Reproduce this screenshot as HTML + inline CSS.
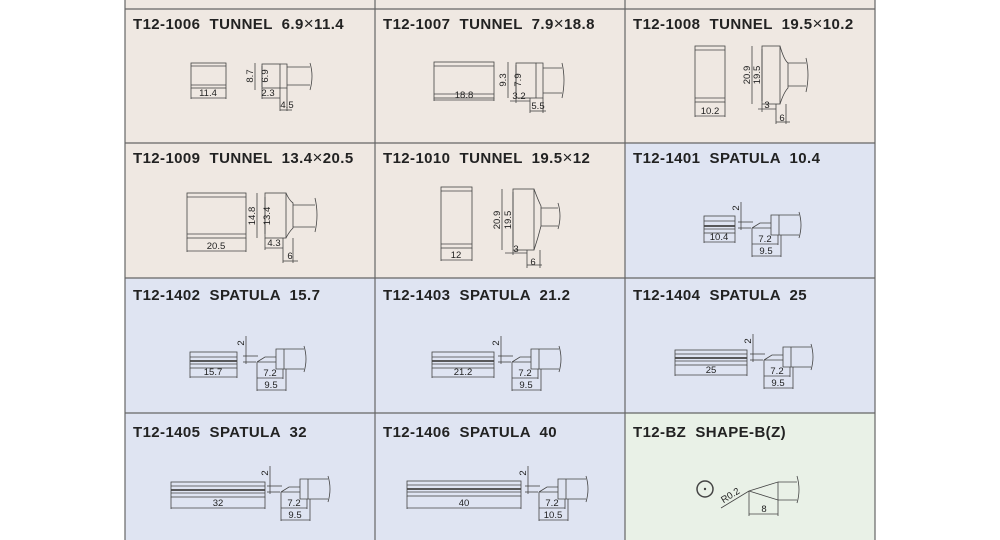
<!DOCTYPE html>
<html><head><meta charset="utf-8"><style>
html,body{margin:0;padding:0;background:#fff;}
svg{display:block;}
.t{font-family:"Liberation Sans",sans-serif;font-weight:bold;font-size:15px;letter-spacing:0.4px;fill:#222;white-space:pre;}
.x{font-weight:normal;font-size:17px;}
.d{font-family:"Liberation Sans",sans-serif;font-size:9.5px;fill:#222;}
.s{fill:none;stroke:#444;stroke-width:0.8;}
.g{stroke:#666;stroke-width:1.2;}
</style></head><body>
<svg width="1000" height="540" viewBox="0 0 1000 540" xmlns="http://www.w3.org/2000/svg" xml:space="preserve">
<rect x="0" y="0" width="1000" height="540" fill="#fff"/>
<rect x="125" y="0" width="750" height="143" fill="#efe8e2"/>
<rect x="125" y="143" width="500" height="135" fill="#efe8e2"/>
<rect x="625" y="143" width="250" height="135" fill="#dfe4f2"/>
<rect x="125" y="278" width="750" height="135" fill="#dfe4f2"/>
<rect x="125" y="413" width="500" height="127" fill="#dfe4f2"/>
<rect x="625" y="413" width="250" height="127" fill="#e9f1e7"/>
<g class="g">
<line x1="125" y1="0" x2="125" y2="540"/><line x1="375" y1="0" x2="375" y2="540"/>
<line x1="625" y1="0" x2="625" y2="540"/><line x1="875" y1="0" x2="875" y2="540"/>
<line x1="125" y1="9" x2="875" y2="9"/><line x1="125" y1="143" x2="875" y2="143"/>
<line x1="125" y1="278" x2="875" y2="278"/><line x1="125" y1="413" x2="875" y2="413"/>
</g>
<text class="t" x="133" y="29">T12-1006  TUNNEL  6.9<tspan class="x">×</tspan>11.4</text>
<text class="t" x="383" y="29">T12-1007  TUNNEL  7.9<tspan class="x">×</tspan>18.8</text>
<text class="t" x="633" y="29">T12-1008  TUNNEL  19.5<tspan class="x">×</tspan>10.2</text>
<text class="t" x="133" y="163">T12-1009  TUNNEL  13.4<tspan class="x">×</tspan>20.5</text>
<text class="t" x="383" y="163">T12-1010  TUNNEL  19.5<tspan class="x">×</tspan>12</text>
<text class="t" x="633" y="163">T12-1401  SPATULA  10.4</text>
<text class="t" x="133" y="300">T12-1402  SPATULA  15.7</text>
<text class="t" x="383" y="300">T12-1403  SPATULA  21.2</text>
<text class="t" x="633" y="300">T12-1404  SPATULA  25</text>
<text class="t" x="133" y="437">T12-1405  SPATULA  32</text>
<text class="t" x="383" y="437">T12-1406  SPATULA  40</text>
<text class="t" x="633" y="437">T12-BZ  SHAPE-B(Z)</text>

<g class="s">
<rect x="191" y="63" width="35" height="25"/><line x1="191" y1="66" x2="226" y2="66"/><line x1="191" y1="85" x2="226" y2="85"/>
<line x1="191" y1="88" x2="191" y2="99"/><line x1="226" y1="88" x2="226" y2="99"/><line x1="191" y1="98" x2="226" y2="98"/>
<line x1="255" y1="63" x2="255" y2="90"/><line x1="262" y1="66" x2="262" y2="87"/>
<rect x="262" y="64" width="18" height="24"/><path d="M280 64 H287 V88 H280 M287 67 H310 M287 85 H310 M310 63 Q314 76 310 90"/>
<line x1="262" y1="88" x2="262" y2="99"/><line x1="280" y1="88" x2="280" y2="111"/><line x1="287" y1="88" x2="287" y2="111"/>
<line x1="262" y1="98" x2="280" y2="98"/><line x1="280" y1="110" x2="292" y2="110"/>
<rect x="434" y="62" width="60" height="36"/><line x1="434" y1="66" x2="494" y2="66"/><line x1="434" y1="94" x2="494" y2="94"/>
<line x1="434" y1="98" x2="434" y2="101"/><line x1="494" y1="98" x2="494" y2="101"/><line x1="434" y1="100" x2="494" y2="100"/>
<line x1="508" y1="62" x2="508" y2="98"/><line x1="516" y1="65" x2="516" y2="95"/>
<rect x="516" y="63" width="20" height="35"/><path d="M536 63 H543 V98 H536 M543 68 H562 M543 93 H562 M562 63 Q566 80 562 98"/>
<line x1="516" y1="98" x2="516" y2="103"/><line x1="530" y1="98" x2="530" y2="113"/><line x1="543" y1="98" x2="543" y2="113"/>
<line x1="510" y1="101" x2="530" y2="101"/><line x1="530" y1="111" x2="546" y2="111"/>
<rect x="695" y="46" width="30" height="56"/><line x1="695" y1="50" x2="725" y2="50"/><line x1="695" y1="98" x2="725" y2="98"/>
<line x1="695" y1="102" x2="695" y2="117"/><line x1="725" y1="102" x2="725" y2="117"/><line x1="695" y1="116" x2="725" y2="116"/>
<line x1="752" y1="46" x2="752" y2="104"/><line x1="762" y1="49" x2="762" y2="101"/>
<rect x="762" y="46" width="18" height="58"/><path d="M780 46 Q784 60 788 63 V88 Q784 92 780 104 M788 63 H806 M788 86 H806 M806 58 Q810 75 806 92"/>
<line x1="762" y1="104" x2="762" y2="112"/><line x1="776" y1="104" x2="776" y2="124"/><line x1="786" y1="104" x2="786" y2="124"/>
<line x1="758" y1="109" x2="776" y2="109"/><line x1="776" y1="122" x2="790" y2="122"/>
<rect x="187" y="193" width="59" height="45"/><line x1="187" y1="197" x2="246" y2="197"/><line x1="187" y1="234" x2="246" y2="234"/>
<line x1="187" y1="238" x2="187" y2="252"/><line x1="246" y1="238" x2="246" y2="252"/><line x1="187" y1="251" x2="246" y2="251"/>
<line x1="257" y1="193" x2="257" y2="238"/><line x1="265" y1="197" x2="265" y2="234"/>
<rect x="265" y="193" width="21" height="45"/><path d="M286 193 Q289 200 293 203 V228 Q289 232 286 238 M293 205 H315 M293 227 H315 M315 198 Q319 215 315 232"/>
<line x1="265" y1="238" x2="265" y2="250"/><line x1="283" y1="238" x2="283" y2="263"/><line x1="293" y1="238" x2="293" y2="263"/>
<line x1="265" y1="248" x2="283" y2="248"/><line x1="283" y1="261" x2="298" y2="261"/>
<rect x="441" y="187" width="31" height="61"/><line x1="441" y1="191" x2="472" y2="191"/><line x1="441" y1="244" x2="472" y2="244"/>
<line x1="441" y1="248" x2="441" y2="261"/><line x1="472" y1="248" x2="472" y2="261"/><line x1="441" y1="260" x2="472" y2="260"/>
<line x1="502" y1="189" x2="502" y2="250"/><line x1="513" y1="192" x2="513" y2="247"/>
<rect x="513" y="189" width="21" height="61"/><path d="M534 189 Q538 200 541 206 V226 Q538 238 534 250 M541 208 H558 M541 226 H558 M558 203 Q562 216 558 229"/>
<line x1="513" y1="250" x2="513" y2="255"/><line x1="527" y1="250" x2="527" y2="268"/><line x1="540" y1="250" x2="540" y2="268"/>
<line x1="505" y1="253" x2="527" y2="253"/><line x1="527" y1="265" x2="542" y2="265"/>
</g>

<g class="d" text-anchor="middle">
<text x="208" y="96">11.4</text>
<text transform="translate(253,76) rotate(-90)">8.7</text><text transform="translate(268,76) rotate(-90)">6.9</text>
<text x="268" y="96">2.3</text><text x="287" y="108">4.5</text>
<text x="464" y="98">18.8</text>
<text transform="translate(506,80) rotate(-90)">9.3</text><text transform="translate(521,80) rotate(-90)">7.9</text>
<text x="519" y="99">3.2</text><text x="538" y="109">5.5</text>
<text x="710" y="114">10.2</text>
<text transform="translate(750,75) rotate(-90)">20.9</text><text transform="translate(760,75) rotate(-90)">19.5</text>
<text x="767" y="108">3</text><text x="782" y="121">6</text>
<text x="216" y="249">20.5</text>
<text transform="translate(255,216) rotate(-90)">14.8</text><text transform="translate(270,216) rotate(-90)">13.4</text>
<text x="274" y="246">4.3</text><text x="290" y="259">6</text>
<text x="456" y="258">12</text>
<text transform="translate(500,220) rotate(-90)">20.9</text><text transform="translate(511,220) rotate(-90)">19.5</text>
<text x="516" y="252">3</text><text x="533" y="265">6</text>
</g>

<defs>
<g id="side" class="s">
<line x1="0" y1="-20" x2="0" y2="8"/><line x1="-3" y1="0" x2="12" y2="0"/><line x1="-3" y1="6" x2="10" y2="6"/>
<path d="M11 6 L19 1 H30 M11 6 H30 M30 -7 V13 H38 V-7 Z M38 -7 H58 M38 13 H58 M58 -10 Q62 3 58 16"/>
<line x1="11" y1="6" x2="11" y2="35"/><line x1="37" y1="13" x2="37" y2="23"/><line x1="40" y1="13" x2="40" y2="35"/>
<line x1="11" y1="22" x2="37" y2="22"/><line x1="11" y1="34" x2="40" y2="34"/>
</g>
</defs>
<g class="s"><rect x="704" y="216" width="31" height="17"/><line x1="704" y1="221" x2="735" y2="221"/><line x1="704" y1="226" x2="735" y2="226" stroke-width="1.8"/><line x1="704" y1="229" x2="735" y2="229"/><line x1="704" y1="233" x2="704" y2="243"/><line x1="735" y1="233" x2="735" y2="243"/><line x1="704" y1="242" x2="735" y2="242"/></g>
<use href="#side" x="741" y="222"/>
<g class="s"><rect x="190" y="352" width="47" height="16"/><line x1="190" y1="357" x2="237" y2="357"/><line x1="190" y1="361" x2="237" y2="361" stroke-width="1.8"/><line x1="190" y1="364" x2="237" y2="364"/><line x1="190" y1="368" x2="190" y2="378"/><line x1="237" y1="368" x2="237" y2="378"/><line x1="190" y1="377" x2="237" y2="377"/></g>
<use href="#side" x="246" y="356"/>
<g class="s"><rect x="432" y="352" width="62" height="16"/><line x1="432" y1="357" x2="494" y2="357"/><line x1="432" y1="361" x2="494" y2="361" stroke-width="1.8"/><line x1="432" y1="364" x2="494" y2="364"/><line x1="432" y1="368" x2="432" y2="378"/><line x1="494" y1="368" x2="494" y2="378"/><line x1="432" y1="377" x2="494" y2="377"/></g>
<use href="#side" x="501" y="356"/>
<g class="s"><rect x="675" y="350" width="72" height="15"/><line x1="675" y1="354" x2="747" y2="354"/><line x1="675" y1="358" x2="747" y2="358" stroke-width="1.8"/><line x1="675" y1="361" x2="747" y2="361"/><line x1="675" y1="365" x2="675" y2="376"/><line x1="747" y1="365" x2="747" y2="376"/><line x1="675" y1="375" x2="747" y2="375"/></g>
<use href="#side" x="753" y="354"/>
<g class="s"><rect x="171" y="482" width="94" height="15"/><line x1="171" y1="486" x2="265" y2="486"/><line x1="171" y1="490" x2="265" y2="490" stroke-width="1.8"/><line x1="171" y1="493" x2="265" y2="493"/><line x1="171" y1="497" x2="171" y2="509"/><line x1="265" y1="497" x2="265" y2="509"/><line x1="171" y1="508" x2="265" y2="508"/></g>
<use href="#side" x="270" y="486"/>
<g class="s"><rect x="407" y="481" width="114" height="15"/><line x1="407" y1="485" x2="521" y2="485"/><line x1="407" y1="489" x2="521" y2="489" stroke-width="1.8"/><line x1="407" y1="492" x2="521" y2="492"/><line x1="407" y1="496" x2="407" y2="509"/><line x1="521" y1="496" x2="521" y2="509"/><line x1="407" y1="508" x2="521" y2="508"/></g>
<use href="#side" x="528" y="486"/>

<g class="d" text-anchor="middle">
<text x="719" y="240">10.4</text><text transform="translate(739,208) rotate(-90)">2</text><text x="765" y="242">7.2</text><text x="766" y="254">9.5</text>
<text x="213" y="375">15.7</text><text transform="translate(244,343) rotate(-90)">2</text><text x="270" y="376">7.2</text><text x="271" y="388">9.5</text>
<text x="463" y="375">21.2</text><text transform="translate(499,343) rotate(-90)">2</text><text x="525" y="376">7.2</text><text x="526" y="388">9.5</text>
<text x="711" y="373">25</text><text transform="translate(751,341) rotate(-90)">2</text><text x="777" y="374">7.2</text><text x="778" y="386">9.5</text>
<text x="218" y="506">32</text><text transform="translate(268,473) rotate(-90)">2</text><text x="294" y="506">7.2</text><text x="295" y="518">9.5</text>
<text x="464" y="506">40</text><text transform="translate(526,473) rotate(-90)">2</text><text x="552" y="506">7.2</text><text x="553" y="518">10.5</text>
</g>

<g class="s">
<circle cx="705" cy="489" r="8" stroke-width="1.5"/><circle cx="705" cy="489" r="0.8" fill="#333"/>
<path d="M721 508 L749 491 L778 482 V500 L749 491 M778 482 H797 M778 500 H797 M797 476 Q801 490 797 503"/>
<line x1="749" y1="491" x2="749" y2="516"/><line x1="778" y1="500" x2="778" y2="516"/><line x1="749" y1="514" x2="778" y2="514"/>
</g>
<text class="d" transform="translate(732,498) rotate(-32)" text-anchor="middle">R0.2</text>
<text class="d" x="764" y="512" text-anchor="middle">8</text>
</svg>
</body></html>
